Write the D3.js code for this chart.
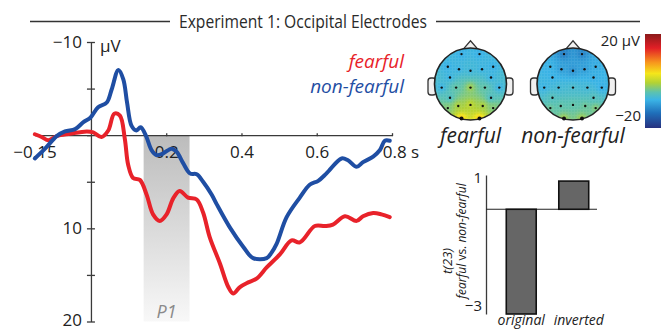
<!DOCTYPE html>
<html><head><meta charset="utf-8">
<script src="https://cdn.jsdelivr.net/npm/d3@7"></script>
<style>
html,body{margin:0;padding:0;background:#fff;}
svg{display:block;font-family:"Open Sans",sans-serif;}
</style></head>
<body><svg id="chart" width="666" height="331"></svg>
<script>
// ---------------- DATA ----------------
const titleText = "Experiment 1: Occipital Electrodes";
// ERP waveforms (time in s, amplitude in µV; negative plotted up)
const fearfulTime = [-0.149,-0.131,-0.113,-0.091,-0.056,-0.011,0.006,0.028,0.046,0.062,0.077,0.090,0.099,0.112,0.130,0.148,0.165,0.183,0.201,0.219,0.236,0.258,0.281,0.298,0.316,0.343,0.365,0.378,0.396,0.418,0.440,0.467,0.502,0.533,0.555,0.595,0.622,0.643,0.675,0.706,0.723,0.750,0.772,0.794];
const fearfulUV   = [-0.1,0.2,0.55,0.1,-0.15,-0.4,-0.3,0.2,-0.5,-2.3,-2.1,0.4,3.2,4.6,4.8,6.4,8.5,9.2,8.5,6.75,6.0,6.7,6.9,8.3,11.0,13.8,16.3,17.0,16.3,15.8,15.4,14.2,12.8,11.3,11.5,9.75,9.75,9.6,8.7,9.2,8.7,8.35,8.5,8.8];
const nonFearfulTime = [-0.149,-0.122,-0.091,-0.069,-0.042,-0.020,-0.001,0.019,0.042,0.055,0.073,0.086,0.096,0.108,0.121,0.132,0.146,0.161,0.175,0.192,0.214,0.228,0.245,0.263,0.281,0.298,0.321,0.334,0.369,0.405,0.431,0.467,0.480,0.493,0.520,0.555,0.582,0.604,0.626,0.666,0.683,0.706,0.723,0.750,0.768,0.781,0.794];
const nonFearfulUV   = [2.5,1.45,0.1,-0.4,-0.65,-1.4,-1.9,-3.0,-3.5,-4.9,-7.0,-6.0,-3.5,-1.0,-0.5,-0.85,0.05,1.6,2.15,1.95,1.45,1.8,3.0,4.1,4.2,5.0,6.4,7.4,9.9,12.0,13.2,13.2,12.6,11.7,8.8,6.7,5.3,4.9,4.1,2.5,2.7,3.4,2.9,2.3,1.6,0.6,0.6];
const xTickValues = [-0.15,0.2,0.4,0.6,0.8];
const xTickLabels = ["\u22120.15","0.2","0.4","0.6","0.8 s"];
const yTickValues = [-10,-5,0,5,10,15,20];
const yTickLabels = ["\u221210","","","","10","","20"];
const p1Window = [0.14, 0.262];
const seriesNames = ["fearful","non-fearful"];
const seriesColors = ["#e8222a","#1f4ea3"];

// scalp maps: electrode layout (normalised head coords) and values (µV)
const electrodeNames = ["Fp1","Fp2","F7","F3","Fz","F4","F8","FC5","FC6","T7","C3","Cz","C4","T8","CP5","CP6","P7","P3","Pz","P4","P8","O1","O2"];
const electrodeU = [-0.25,0.25,-0.63,-0.32,0,0.32,0.63,-0.57,0.57,-0.80,-0.40,0,0.40,0.80,-0.57,0.57,-0.63,-0.34,0,0.34,0.63,-0.25,0.25];
const electrodeW = [-0.83,-0.83,-0.48,-0.41,-0.37,-0.41,-0.48,-0.18,-0.18,0.10,0.10,0.10,0.10,0.10,0.38,0.38,0.67,0.61,0.58,0.61,0.67,0.96,0.96];
const fearfulMap    = [-8.5,-8.5,-8.5,-8,-7.5,-8,-8.5,-8,-8,-8,-4.5,-1.5,-4.5,-8,-6,-6,-3,-1,0,-1,-3,5.5,5.5];
const nonFearfulMap = [-12.5,-12,-8,-10,-11,-10,-8.5,-8,-8.5,-8,-7,-6.5,-7,-8.5,-5.5,-5.5,-4,-4.5,-4.5,-4,-3,-1.5,-1.5];
const colorbarValues = [-20,-13.6,-8,-4.8,-0.8,3.2,8,14,20];
const colorbarColors = ["#27317f","#1f6fba","#3bb4e6","#5cc2b0","#b2d235","#f5e61a","#f7941d","#e21f26","#8b1a1a"];
const colorbarTicks = ["20 \u00b5V","\u221220"];

// t-values bar chart
const conditions = ["original","inverted"];
const tValues = [-3.27, 0.88];
const tTickValues = [1,-3];
const tTickLabels = ["1","\u22123"];

// ---------------- DRAW ----------------
const svg = d3.select("#chart");
svg.append("rect").attr("width",666).attr("height",331).attr("fill","#fff");
const defs = svg.append("defs");
const axisColor = "#3a3a3a";

// Title with rules
const title = svg.append("text").attr("x",303).attr("y",27.5).attr("text-anchor","middle")
  .attr("font-size",18.5).attr("fill","#2a2a2a").attr("textLength",248).attr("lengthAdjust","spacingAndGlyphs").text(titleText);
const tb = title.node().getBBox();
svg.append("line").attr("x1",30).attr("x2",tb.x-9).attr("y1",21.5).attr("y2",21.5).attr("stroke","#333").attr("stroke-width",1.3);
svg.append("line").attr("x1",tb.x+tb.width+9).attr("x2",640).attr("y1",21.5).attr("y2",21.5).attr("stroke","#333").attr("stroke-width",1.3);

// ERP scales
const x = d3.scaleLinear().domain([-0.15,0.8]).range([34.5,392]);
const y = d3.scaleLinear().domain([-10,20]).range([42,321.5]);

// P1 shaded window
const grad = defs.append("linearGradient").attr("id","p1g").attr("x1",0).attr("x2",0).attr("y1",0).attr("y2",1);
grad.append("stop").attr("offset","0%").attr("stop-color","#bcbcbc");
grad.append("stop").attr("offset","100%").attr("stop-color","#f8f8f8");
svg.append("rect").attr("x",x(p1Window[0])).attr("width",x(p1Window[1])-x(p1Window[0]))
  .attr("y",y(0)).attr("height",y(20)-y(0)).attr("fill","url(#p1g)");
svg.append("text").attr("x",(x(p1Window[0])+x(p1Window[1]))/2).attr("y",318).attr("text-anchor","middle")
  .attr("font-size",18).attr("font-style","italic").attr("fill","#8a8a8a").text("P1");

// y axis
const yAxis = d3.axisLeft(y).tickValues(yTickValues).tickSize(4).tickSizeOuter(0).tickPadding(5)
  .tickFormat((d,i)=>yTickLabels[i]);
const gy = svg.append("g").attr("transform",`translate(${x(0)},0)`).call(yAxis);
gy.selectAll("text").attr("font-size",17).attr("fill","#222").attr("font-family","Open Sans");
gy.selectAll("text").filter(d=>d===20).attr("dy","0.26em");
const yAxisR = d3.axisRight(y).tickValues(yTickValues.filter(v=>v!==0)).tickSize(4).tickSizeOuter(0).tickFormat("");
const gy2 = svg.append("g").attr("transform",`translate(${x(0)},0)`).call(yAxisR);
gy2.select(".domain").remove();
[gy,gy2].forEach(g=>{g.selectAll("path,line").attr("stroke",axisColor).attr("stroke-width",1.3);});
svg.append("text").attr("x",x(0)+9).attr("y",y(-10)+10).attr("font-size",17).attr("fill","#222").text("\u00b5V");

// x axis
const xAxis = d3.axisBottom(x).tickValues(xTickValues).tickSize(0).tickSizeOuter(0).tickPadding(11)
  .tickFormat((d,i)=>xTickLabels[i]);
const gx = svg.append("g").attr("transform",`translate(0,${y(0)})`).call(xAxis);
gx.selectAll("text").attr("font-size",17).attr("fill","#222").attr("font-family","Open Sans");
gx.selectAll("text").filter((d)=>d===0.8).attr("dx","0.5em");
const xTicksUp = d3.axisTop(x).tickValues(xTickValues.filter(v=>v>0)).tickSize(3).tickSizeOuter(0).tickFormat("");
const gx2 = svg.append("g").attr("transform",`translate(0,${y(0)+1})`).call(xTicksUp);
gx2.select(".domain").remove();
[gx,gx2].forEach(g=>{g.selectAll("path,line").attr("stroke",axisColor).attr("stroke-width",1.3);});

// waveforms
const line = d3.line().x(d=>x(d[0])).y(d=>y(d[1])).curve(d3.curveCatmullRom.alpha(0.5));
const fearfulPts = fearfulTime.map((t,i)=>[t,fearfulUV[i]]);
const nonFearfulPts = nonFearfulTime.map((t,i)=>[t,nonFearfulUV[i]]);
svg.append("path").datum(fearfulPts).attr("d",line).attr("fill","none").attr("stroke",seriesColors[0])
  .attr("stroke-width",4).attr("stroke-linejoin","round").attr("stroke-linecap","round");
svg.append("path").datum(nonFearfulPts).attr("d",line).attr("fill","none").attr("stroke",seriesColors[1])
  .attr("stroke-width",4).attr("stroke-linejoin","round").attr("stroke-linecap","round");

// legend
seriesNames.forEach((n,i)=>{
  svg.append("text").attr("x",404).attr("y",68+i*25).attr("text-anchor","end").attr("font-size",19)
    .attr("font-style","italic").attr("fill",seriesColors[i]).text(n);
});

// ---------------- scalp maps ----------------
const jet = d3.scaleLinear().domain(colorbarValues).range(colorbarColors).interpolate(d3.interpolateRgb).clamp(true);
const heads = [
  {cx:470.5, cy:84, r:36, vals:fearfulMap, label:"fearful", id:"h0"},
  {cx:573, cy:84, r:36, vals:nonFearfulMap, label:"non-fearful", id:"h1"}
];
const N = 48;
heads.forEach(h=>{
  const su = d3.scaleLinear().domain([-1,1]).range([h.cx-h.r,h.cx+h.r]);
  const sw = d3.scaleLinear().domain([-1,1]).range([h.cy-h.r,h.cy+h.r]);
  const cell = 2*h.r/N;
  // ears
  [-1,1].forEach(s=>{
    svg.append("rect").attr("x",s<0?su(-1)-6.5:su(1)-1.5).attr("y",sw(0.0)-6).attr("width",8).attr("height",17)
      .attr("rx",3).attr("fill","#f0f0f0").attr("stroke","#333").attr("stroke-width",1.3);
  });
  // nose
  svg.append("path").attr("d",`M${su(-0.2)},${sw(-0.97)} L${su(0)},${sw(-1.2)} L${su(0.2)},${sw(-0.97)} Z`)
    .attr("fill","#f0f0f0").attr("stroke","#333").attr("stroke-width",1.3);
  defs.append("clipPath").attr("id","clip"+h.id).append("circle").attr("cx",h.cx).attr("cy",h.cy).attr("r",h.r);
  const grid=[];
  for(let i=0;i<N;i++)for(let j=0;j<N;j++){
    const u=-1+(i+0.5)*2/N, w=-1+(j+0.5)*2/N;
    if(u*u+w*w>1.1) continue;
    let num=0,den=0,exact=null;
    for(let k=0;k<electrodeU.length;k++){
      const d2=(u-electrodeU[k])**2+(w-electrodeW[k])**2;
      if(d2<1e-6){exact=h.vals[k];break;}
      const wt=1/d2;
      num+=wt*h.vals[k];den+=wt;
    }
    grid.push({u,w,v:exact!==null?exact:num/den});
  }
  const gmap = svg.append("g").attr("clip-path",`url(#clip${h.id})`);
  gmap.selectAll("rect").data(grid).join("rect")
    .attr("x",d=>su(d.u)-cell/2-0.2).attr("y",d=>sw(d.w)-cell/2-0.2)
    .attr("width",cell+0.4).attr("height",cell+0.4).attr("fill",d=>jet(d.v));
  svg.append("circle").attr("cx",h.cx).attr("cy",h.cy).attr("r",h.r).attr("fill","none").attr("stroke","#222").attr("stroke-width",1.6);
  electrodeNames.forEach((n,k)=>{
    svg.append("circle").attr("cx",su(electrodeU[k])).attr("cy",sw(electrodeW[k]))
      .attr("r",n[0]==="O"?2:1.2).attr("fill","#111");
  });
  svg.append("text").attr("x",h.cx).attr("y",143).attr("text-anchor","middle").attr("font-size",21)
    .attr("font-style","italic").attr("fill","#222").text(h.label);
});

// colorbar
const cbScale = d3.scaleLinear().domain([-20,20]).range([128,34]);
const cg = defs.append("linearGradient").attr("id","cbg").attr("x1",0).attr("x2",0).attr("y1",1).attr("y2",0);
colorbarValues.forEach((v,i)=>cg.append("stop").attr("offset",((v+20)/40*100)+"%").attr("stop-color",colorbarColors[i]));
svg.append("rect").attr("x",645).attr("width",16).attr("y",cbScale(20)).attr("height",cbScale(-20)-cbScale(20)).attr("fill","url(#cbg)");
svg.append("text").attr("x",640).attr("y",cbScale(20)+12).attr("text-anchor","end").attr("font-size",15).attr("fill","#222").text(colorbarTicks[0]);
svg.append("text").attr("x",641).attr("y",cbScale(-20)-7).attr("text-anchor","end").attr("font-size",15).attr("fill","#222").text(colorbarTicks[1]);

// ---------------- bar chart ----------------
const bx = d3.scaleBand().domain(conditions).range([490,605]).paddingInner(0.43).paddingOuter(0.31);
const by = d3.scaleLinear().domain([-3.27,1.07]).range([314,175]);
const bAxis = d3.axisLeft(by).tickValues(tTickValues).tickSize(0).tickSizeOuter(0).tickPadding(4)
  .tickFormat((d,i)=>tTickLabels[i]);
const gb = svg.append("g").attr("transform","translate(486,0)").call(bAxis);
gb.select(".domain").attr("stroke",axisColor).attr("stroke-width",1.3);
gb.selectAll("text").attr("font-size",15).attr("fill","#222").attr("font-family","Open Sans");
svg.append("line").attr("x1",486).attr("x2",597).attr("y1",by(0)).attr("y2",by(0)).attr("stroke","#222").attr("stroke-width",1.2);
svg.selectAll("rect.bar").data(conditions).join("rect").attr("class","bar")
  .attr("x",d=>bx(d)).attr("width",bx.bandwidth())
  .attr("y",(d,i)=>by(Math.max(0,tValues[i]))).attr("height",(d,i)=>Math.abs(by(tValues[i])-by(0)))
  .attr("fill","#666").attr("stroke","#111").attr("stroke-width",1.6);
svg.selectAll("text.cond").data(conditions).join("text").attr("class","cond")
  .attr("x",d=>bx(d)+bx.bandwidth()/2+ (d==="inverted"?5:0)).attr("y",325).attr("text-anchor","middle")
  .attr("font-size",14).attr("font-style","italic").attr("fill","#222").text(d=>d);
// y title (rotated)
svg.append("text").attr("transform","translate(452,261) rotate(-90)").attr("text-anchor","middle")
  .attr("font-size",13).attr("font-style","italic").attr("fill","#222").text("t(23)");
const yt2 = svg.append("text").attr("transform","translate(466,241) rotate(-90)").attr("text-anchor","middle")
  .attr("font-size",12).attr("fill","#222");
yt2.append("tspan").attr("font-style","italic").text("fearful");
yt2.append("tspan").text(" vs. ");
yt2.append("tspan").attr("font-style","italic").text("non-fearful");
</script>
</body></html>
